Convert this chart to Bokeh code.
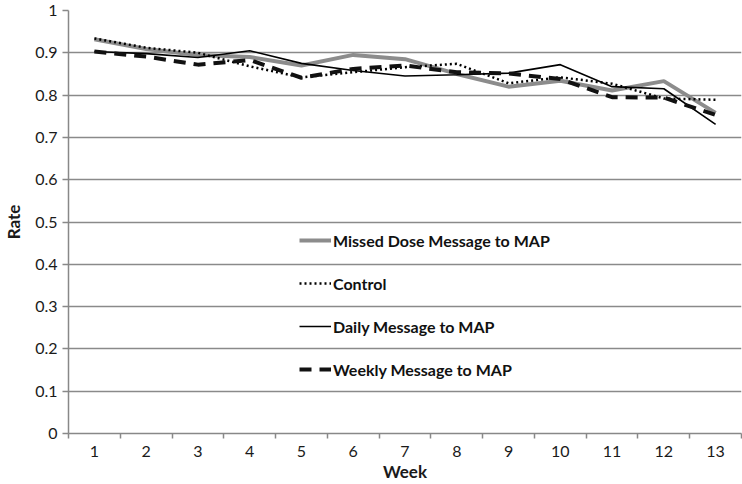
from bokeh.plotting import figure
from bokeh.models import FixedTicker, Legend, LegendItem
from bokeh.embed import file_html
from bokeh.resources import INLINE

weeks = list(range(1, 14))
week_labels = [str(w) for w in weeks]
missed = [0.932, 0.909, 0.895, 0.890, 0.870, 0.895, 0.885, 0.850, 0.820, 0.834, 0.811, 0.833, 0.758]
control = [0.934, 0.912, 0.900, 0.868, 0.842, 0.854, 0.866, 0.874, 0.828, 0.842, 0.827, 0.792, 0.789]
daily = [0.903, 0.898, 0.889, 0.905, 0.875, 0.858, 0.845, 0.848, 0.852, 0.872, 0.820, 0.815, 0.731]
weekly = [0.903, 0.891, 0.872, 0.883, 0.841, 0.862, 0.870, 0.854, 0.851, 0.838, 0.795, 0.794, 0.753]
series_names = ["Missed Dose Message to MAP", "Control", "Daily Message to MAP", "Weekly Message to MAP"]
y_ticks = [round(i * 0.1, 1) for i in range(11)]
x_title = "Week"
y_title = "Rate"

FONT = "Lato"

p = figure(width=742, height=484, output_backend="svg", toolbar_location=None,
           x_range=(0.5, 13.5), y_range=(0, 1),
           min_border_left=65, min_border_right=1, min_border_top=10, min_border_bottom=51)
p.outline_line_color = None
p.background_fill_color = "white"
p.border_fill_color = "white"

r1 = p.line(weeks, missed, line_color="#8c8c8c", line_width=4)
r2 = p.line(weeks, control, line_color="black", line_width=2.5, line_dash="2 3")
r3 = p.line(weeks, daily, line_color="black", line_width=1.6)
r4 = p.line(weeks, weekly, line_color="#111111", line_width=4, line_dash="12 8")

# axes
p.xaxis.ticker = FixedTicker(ticks=weeks, minor_ticks=[w - 0.5 for w in weeks] + [13.5])
p.xaxis.major_label_overrides = {w: lab for w, lab in zip(weeks, week_labels)}
p.xaxis.major_tick_out = 0
p.xaxis.major_tick_in = 0
p.xaxis.minor_tick_out = 5
p.xaxis.minor_tick_in = 0
p.xaxis.minor_tick_line_color = "#888888"
p.xaxis.minor_tick_line_width = 1.5
p.yaxis.ticker = FixedTicker(ticks=y_ticks)
p.yaxis.major_label_overrides = {t: ("0" if t == 0 else ("1" if t == 1 else f"{t:g}")) for t in y_ticks}
p.yaxis.minor_tick_out = 0
p.yaxis.minor_tick_in = 0
p.yaxis.major_tick_out = 6
p.yaxis.major_tick_in = 0

for ax in (p.xaxis, p.yaxis):
    ax.axis_line_color = "#888888"
    ax.axis_line_width = 1.5
    ax.major_tick_line_color = "#888888"
    ax.major_tick_line_width = 1.5
    ax.major_label_text_font = FONT
    ax.major_label_text_font_size = "16px"
    ax.major_label_text_color = "#1a1a1a"
    ax.axis_label_text_font = FONT
    ax.axis_label_text_font_size = "17px"
    ax.axis_label_text_font_style = "bold"
    ax.axis_label_text_color = "#1a1a1a"

p.xaxis.axis_label = x_title
p.yaxis.axis_label = y_title
p.xaxis.major_label_standoff = 7
p.xaxis.axis_label_standoff = 1
p.yaxis.major_label_standoff = 5
p.yaxis.axis_label_standoff = 8

p.xgrid.grid_line_color = None
p.ygrid.grid_line_color = "#8a8a8a"
p.ygrid.grid_line_width = 1.5

legend = Legend(items=[LegendItem(label=n, renderers=[r]) for n, r in zip(series_names, [r1, r2, r3, r4])],
                location=(231, 54), background_fill_alpha=0, border_line_color=None,
                padding=0, margin=0, spacing=23, glyph_width=32, glyph_height=20,
                label_height=20, label_standoff=2,
                label_text_font=FONT, label_text_font_size="16px", label_text_font_style="bold",
                label_text_color="#111111")
p.add_layout(legend, "center")

open("out.html", "w").write(file_html(p, INLINE))
